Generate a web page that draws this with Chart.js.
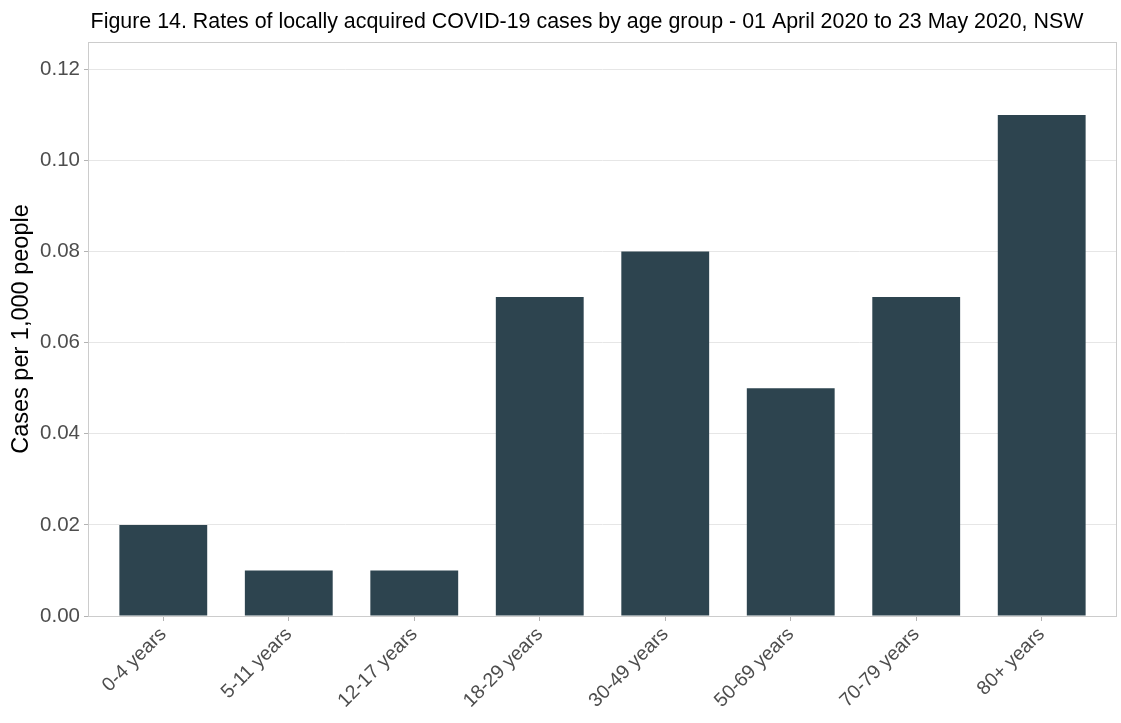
<!DOCTYPE html>
<html>
<head>
<meta charset="utf-8">
<script src="https://cdn.jsdelivr.net/npm/chart.js@4"></script>
<style>
  html, body { margin: 0; padding: 0; background: #ffffff; }
  #wrap { width: 1121px; height: 723px; position: relative; }
</style>
</head>
<body>
<div id="wrap"><canvas id="chart" width="1121" height="723"></canvas></div>
<script>
const chartTitle = 'Figure 14. Rates of locally acquired COVID-19 cases by age group - 01 April 2020 to 23 May 2020, NSW';
const ageGroups = ['0-4 years', '5-11 years', '12-17 years', '18-29 years', '30-49 years', '50-69 years', '70-79 years', '80+ years'];
const casesPer1000 = [0.02, 0.01, 0.01, 0.07, 0.08, 0.05, 0.07, 0.11];
const yTicks = [0, 0.02, 0.04, 0.06, 0.08, 0.10, 0.12];

const FONT = '"Liberation Sans", Arial, sans-serif';

// title drawn a bit left of centre like the original
const titlePlugin = {
    id: 'figTitle',
    afterDraw(chart) {
        const ctx = chart.ctx;
        ctx.save();
        ctx.font = '21.4px ' + FONT;
        ctx.fillStyle = '#000000';
        ctx.textAlign = 'center';
        ctx.textBaseline = 'alphabetic';
        ctx.fillText(chartTitle, 587, 28);
        ctx.restore();
    }
};

const panelBorder = {
    id: 'panelBorder',
    afterDatasetsDraw(chart) {
        const a = chart.chartArea;
        const ctx = chart.ctx;
        ctx.save();
        ctx.strokeStyle = '#cccccc';
        ctx.lineWidth = 1;
        ctx.strokeRect(Math.round(a.left) + 0.5, Math.round(a.top) + 0.5,
            Math.round(a.right - a.left) - 1, Math.round(a.bottom - a.top));
        ctx.restore();
    }
};

const points = casesPer1000.map((v, i) => ({ x: i, y: v }));

new Chart(document.getElementById('chart'), {
    type: 'bar',
    data: {
        datasets: [{
            data: points,
            backgroundColor: '#2d444f',
            borderWidth: 0,
            barPercentage: 0.7,
            categoryPercentage: 1.0
        }]
    },
    options: {
        responsive: false,
        animation: false,
        layout: { padding: { top: 42, right: 4, left: 0, bottom: 0 } },
        plugins: {
            legend: { display: false },
            tooltip: { enabled: false },
            title: { display: false }
        },
        scales: {
            x: {
                type: 'linear',
                min: -0.6,
                max: 7.6,
                offset: false,
                afterBuildTicks: axis => {
                    axis.ticks = ageGroups.map((_, i) => ({ value: i }));
                },
                afterFit: axis => { axis.height = 107; },
                ticks: {
                    autoSkip: false,
                    minRotation: 45,
                    maxRotation: 45,
                    padding: 2,
                    color: '#4d4d4d',
                    font: { family: FONT, size: 19.5 },
                    callback: v => ageGroups[v]
                },
                grid: {
                    offset: false,
                    drawOnChartArea: false,
                    drawTicks: true,
                    tickLength: 5,
                    tickColor: '#b3b3b3'
                },
                border: { display: false }
            },
            y: {
                min: 0,
                max: 0.126,
                afterBuildTicks: axis => {
                    axis.ticks = yTicks.map(v => ({ value: v }));
                },
                afterFit: axis => { axis.width = 88; },
                ticks: {
                    padding: 4,
                    color: '#4d4d4d',
                    font: { family: FONT, size: 20.5 },
                    callback: v => v.toFixed(2)
                },
                grid: {
                    color: '#e6e6e6',
                    lineWidth: 1,
                    drawTicks: true,
                    tickLength: 4,
                    tickColor: '#b3b3b3'
                },
                border: { display: false },
                title: {
                    display: true,
                    text: 'Cases per 1,000 people',
                    color: '#000000',
                    font: { family: FONT, size: 23.5 },
                    padding: { top: 7, bottom: 0 }
                }
            }
        }
    },
    plugins: [titlePlugin, panelBorder]
});
</script>
</body>
</html>
